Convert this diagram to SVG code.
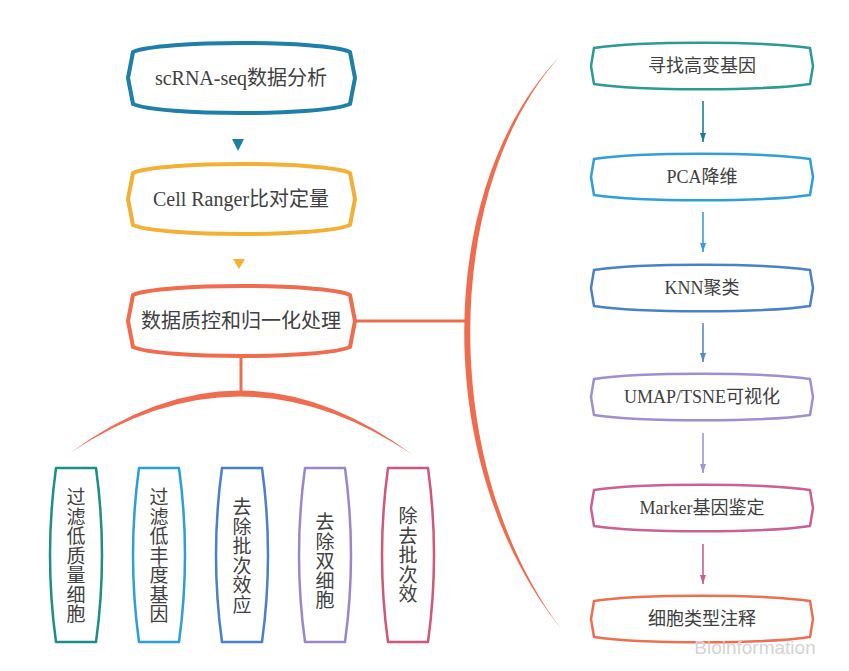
<svg xmlns="http://www.w3.org/2000/svg" width="849" height="671" viewBox="0 0 849 671">
<defs>
<style>
.t{font-family:"Liberation Serif","Noto Sans CJK SC",serif;fill:#404040;text-anchor:middle}
.lt{font-size:20px}
.rt{font-size:18px}
.vt{font-size:19px}
.ln{fill:#fff;stroke-width:4;stroke-linejoin:round}
.rn{fill:#fff;stroke-width:2.5;stroke-linejoin:round}
.bn{fill:#fff;stroke-width:2.5;stroke-linejoin:round}
.conn{stroke:#ef6c4f;stroke-width:3;fill:none}
.arw{stroke-width:1.6;fill:none}
</style>
<marker id="m1" markerUnits="userSpaceOnUse" markerWidth="9" markerHeight="8" refX="9" refY="4" orient="auto"><path d="M0,1 L9,4 L0,7 Z" fill="#1a7f96"/></marker>
<marker id="m2" markerUnits="userSpaceOnUse" markerWidth="9" markerHeight="8" refX="9" refY="4" orient="auto"><path d="M0,1 L9,4 L0,7 Z" fill="#3a9ed6"/></marker>
<marker id="m3" markerUnits="userSpaceOnUse" markerWidth="9" markerHeight="8" refX="9" refY="4" orient="auto"><path d="M0,1 L9,4 L0,7 Z" fill="#5a88c8"/></marker>
<marker id="m4" markerUnits="userSpaceOnUse" markerWidth="9" markerHeight="8" refX="9" refY="4" orient="auto"><path d="M0,1 L9,4 L0,7 Z" fill="#a395d6"/></marker>
<marker id="m5" markerUnits="userSpaceOnUse" markerWidth="9" markerHeight="8" refX="9" refY="4" orient="auto"><path d="M0,1 L9,4 L0,7 Z" fill="#c8608f"/></marker>
</defs>
<rect width="849" height="671" fill="#ffffff"/>

<g id="connectors">
<polygon points="232,139 244,139 238,151" fill="#1a82a0"/>
<polygon points="233,259 245,259 239,269" fill="#f5b130"/>
<line class="conn" x1="350" y1="321" x2="467" y2="321"/>
<line class="conn" x1="241" y1="356" x2="241" y2="392"/>
<path d="M70,453 Q241,327 413,455 Q241,339 70,453 Z" fill="#ef6c4f"/>
<path d="M560,56 C432,190 432,470 562,630 C440,470 440,190 560,56 Z" fill="#ef6c4f"/>
<line class="arw" x1="703" y1="101" x2="703" y2="142" stroke="#1a7f96" marker-end="url(#m1)"/>
<line class="arw" x1="703" y1="212" x2="703" y2="252" stroke="#3a9ed6" marker-end="url(#m2)"/>
<line class="arw" x1="703" y1="323" x2="703" y2="362" stroke="#5a88c8" marker-end="url(#m3)"/>
<line class="arw" x1="703" y1="433" x2="703" y2="473" stroke="#a395d6" marker-end="url(#m4)"/>
<line class="arw" x1="703" y1="544" x2="703" y2="584" stroke="#c8608f" marker-end="url(#m5)"/>
</g>

<g id="n-scrna">
<path class="ln" stroke="#1e7fa8" d="M133,52 C160,40 323,40 350,52 L355,78 L350,104 C323,116 160,116 133,104 L128,78 Z"/>
<text class="t lt" x="241" y="85">scRNA-seq数据分析</text>
</g>
<g id="n-cellranger">
<path class="ln" stroke="#f2b134" d="M133,173 C160,161 323,161 350,173 L355,199 L350,225 C323,237 160,237 133,225 L128,199 Z"/>
<text class="t lt" x="241" y="206">Cell Ranger比对定量</text>
</g>
<g id="n-qc">
<path class="ln" stroke="#ef6c4f" d="M133,295 C160,283 323,283 350,295 L355,321 L350,347 C323,359 160,359 133,347 L128,321 Z"/>
<text class="t lt" x="241" y="328">数据质控和归一化处理</text>
</g>

<g id="b1">
<path class="bn" stroke="#1a8f86" d="M56,468 L96,468 Q108,555 96,642 L56,642 Q44,555 56,468 Z"/>
<text class="t vt" x="76" y="504"><tspan x="76">过</tspan><tspan x="76" dy="19.5">滤</tspan><tspan x="76" dy="19.5">低</tspan><tspan x="76" dy="19.5">质</tspan><tspan x="76" dy="19.5">量</tspan><tspan x="76" dy="19.5">细</tspan><tspan x="76" dy="19.5">胞</tspan></text>
</g>
<g id="b2">
<path class="bn" stroke="#2a9fd8" d="M139,468 L179,468 Q191,555 179,642 L139,642 Q127,555 139,468 Z"/>
<text class="t vt" x="159" y="504"><tspan x="159">过</tspan><tspan x="159" dy="19.5">滤</tspan><tspan x="159" dy="19.5">低</tspan><tspan x="159" dy="19.5">丰</tspan><tspan x="159" dy="19.5">度</tspan><tspan x="159" dy="19.5">基</tspan><tspan x="159" dy="19.5">因</tspan></text>
</g>
<g id="b3">
<path class="bn" stroke="#4a7fcf" d="M222,468 L262,468 Q274,555 262,642 L222,642 Q210,555 222,468 Z"/>
<text class="t vt" x="242" y="514"><tspan x="242">去</tspan><tspan x="242" dy="19.5">除</tspan><tspan x="242" dy="19.5">批</tspan><tspan x="242" dy="19.5">次</tspan><tspan x="242" dy="19.5">效</tspan><tspan x="242" dy="19.5">应</tspan></text>
</g>
<g id="b4">
<path class="bn" stroke="#9a87c8" d="M305,468 L345,468 Q357,555 345,642 L305,642 Q293,555 305,468 Z"/>
<text class="t vt" x="325" y="529"><tspan x="325">去</tspan><tspan x="325" dy="19.5">除</tspan><tspan x="325" dy="19.5">双</tspan><tspan x="325" dy="19.5">细</tspan><tspan x="325" dy="19.5">胞</tspan></text>
</g>
<g id="b5">
<path class="bn" stroke="#d0577a" d="M388,468 L428,468 Q440,555 428,642 L388,642 Q376,555 388,468 Z"/>
<text class="t vt" x="408" y="523"><tspan x="408">除</tspan><tspan x="408" dy="19.5">去</tspan><tspan x="408" dy="19.5">批</tspan><tspan x="408" dy="19.5">次</tspan><tspan x="408" dy="19.5">效</tspan></text>
</g>

<g id="r1">
<path class="rn" stroke="#2a9a94" d="M594,48 C640,41 764,41 810,48 L813,66 L810,84 C764,91 640,91 594,84 L591,66 Z"/>
<text class="t rt" x="702" y="72">寻找高变基因</text>
</g>
<g id="r2">
<path class="rn" stroke="#2e9fd9" d="M594,159 C640,152 764,152 810,159 L813,177 L810,195 C764,202 640,202 594,195 L591,177 Z"/>
<text class="t rt" x="702" y="183">PCA降维</text>
</g>
<g id="r3">
<path class="rn" stroke="#4b80c8" d="M594,270 C640,263 764,263 810,270 L813,288 L810,306 C764,313 640,313 594,306 L591,288 Z"/>
<text class="t rt" x="702" y="294">KNN聚类</text>
</g>
<g id="r4">
<path class="rn" stroke="#a08fcf" d="M594,379 C640,372 764,372 810,379 L813,397 L810,415 C764,422 640,422 594,415 L591,397 Z"/>
<text class="t rt" x="702" y="403">UMAP/TSNE可视化</text>
</g>
<g id="r5">
<path class="rn" stroke="#cc5f94" d="M594,490 C640,483 764,483 810,490 L813,508 L810,526 C764,533 640,533 594,526 L591,508 Z"/>
<text class="t rt" x="702" y="514">Marker基因鉴定</text>
</g>
<g id="r6">
<path class="rn" stroke="#ef6e50" d="M594,601 C640,594 764,594 810,601 L813,619 L810,637 C764,644 640,644 594,637 L591,619 Z"/>
<text class="t rt" x="702" y="625">细胞类型注释</text>
</g>

<text x="755" y="654" font-family="'Liberation Sans',sans-serif" font-size="19" fill="#d4d4d4" text-anchor="middle">Bioinformation</text>
</svg>
